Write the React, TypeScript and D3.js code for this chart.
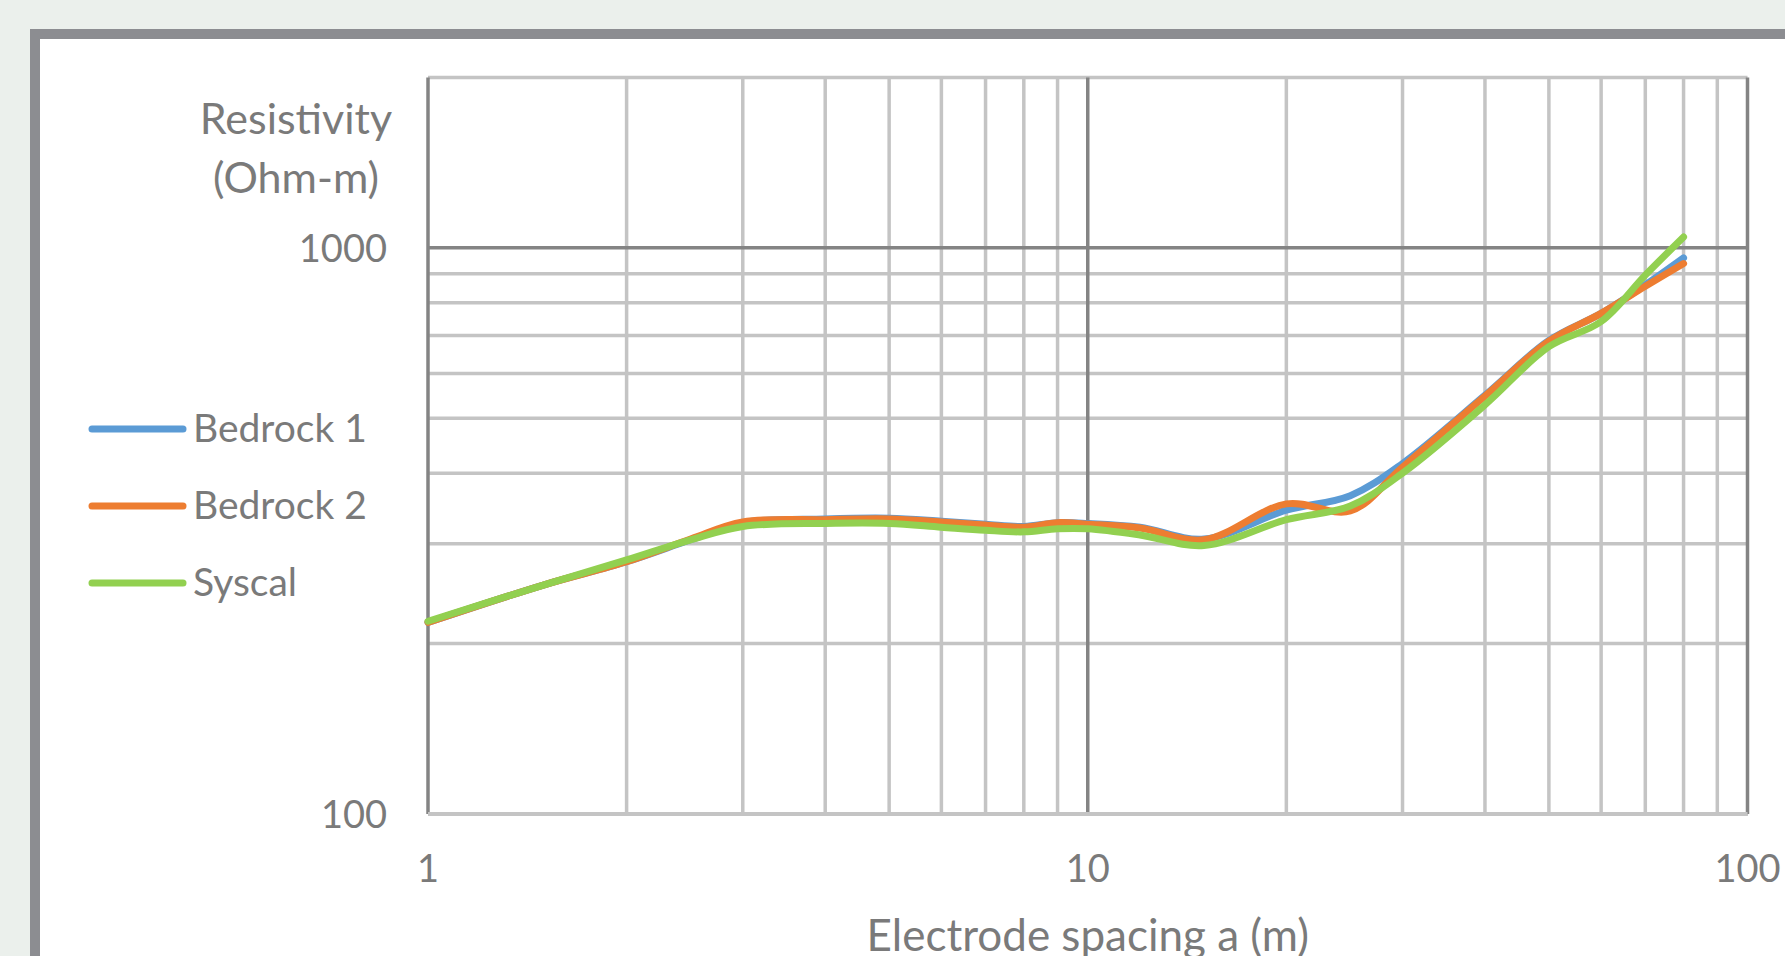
import React from "react";
import * as d3 from "d3";

const spacing = [1, 1.5, 2, 2.5, 3, 4, 5, 6, 7, 8, 9, 10, 12, 15, 20, 25, 30, 40, 50, 60, 70, 80];
const bedrock1 = [218, 254, 279, 305, 327, 332, 333, 329, 325, 322, 327, 326, 321, 306, 344, 365, 416, 549, 686, 766, 860, 960];
const bedrock2 = [218, 254, 279, 306, 328, 331, 332, 328, 324, 321, 327, 325, 320, 305, 353, 343, 410, 547, 684, 766, 855, 938];
const syscal = [219, 254, 281, 305, 322, 326, 326, 321, 317, 315, 319, 319, 311, 298, 331, 350, 400, 528, 669, 741, 895, 1045];

const seriesNames = ["Bedrock 1", "Bedrock 2", "Syscal"];
const seriesColors = ["#5B9BD5", "#ED7D31", "#92D050"];

const xMajorTicks = [1, 10, 100];
const xMinorTicks = [2, 3, 4, 5, 6, 7, 8, 9, 20, 30, 40, 50, 60, 70, 80, 90];
const yMajorTicks = [100, 1000];
const yMinorTicks = [200, 300, 400, 500, 600, 700, 800, 900, 2000];
const xTickLabels = ["1", "10", "100"];
const yTickLabels = ["100", "1000"];

const FONT = "Lato, 'Open Sans', sans-serif";
const TEXT = "#7a7a7a";

export default function App() {
  const W = 1785, H = 956;
  const left = 428, right = 1747.5, top = 77.4, bottom = 814;
  const x = d3.scaleLog().domain([1, 100]).range([left, right]);
  const y = d3.scaleLog().domain([100, 2000]).range([bottom, top]);
  const all = [bedrock1, bedrock2, syscal];
  const line = d3
    .line<number>()
    .x((_, i) => x(spacing[i]))
    .y((v) => y(v))
    .curve(d3.curveCatmullRom.alpha(0.5));

  return (
    <svg width={W} height={H} style={{ position: "absolute", left: 0, top: 0, display: "block" }}>
      <rect x={0} y={0} width={W} height={H} fill="#EBF0EC" />
      <rect x={35} y={34} width={W} height={H} fill="#ffffff" stroke="#8C8D91" strokeWidth={10} />
      {/* minor gridlines */}
      {yMinorTicks.map((t) => (
        <line key={"ym" + t} x1={left} x2={right} y1={y(t)} y2={y(t)} stroke="#C4C4C4" strokeWidth={3.5} />
      ))}
      {xMinorTicks.map((t) => (
        <line key={"xm" + t} x1={x(t)} x2={x(t)} y1={top} y2={bottom} stroke="#C4C4C4" strokeWidth={3.5} />
      ))}
      {/* major gridlines */}
      {yMajorTicks.map((t) => (
        <line key={"yM" + t} x1={left} x2={right} y1={y(t)} y2={y(t)} stroke="#848484" strokeWidth={3.5} />
      ))}
      {xMajorTicks.map((t) => (
        <line key={"xM" + t} x1={x(t)} x2={x(t)} y1={top} y2={bottom} stroke="#848484" strokeWidth={3.5} />
      ))}
      {/* x axis line */}
      <line x1={left} x2={right} y1={bottom} y2={bottom} stroke="#C4C4C4" strokeWidth={4} />
      {/* series */}
      {all.map((s, i) => (
        <path
          key={seriesNames[i]}
          d={line(s) || ""}
          fill="none"
          stroke={seriesColors[i]}
          strokeWidth={7}
          strokeLinecap="round"
          strokeLinejoin="round"
        />
      ))}
      {/* y tick labels */}
      {yMajorTicks.map((t, i) => (
        <text key={"yl" + t} x={387} y={y(t) + 14} textAnchor="end" fontFamily={FONT} fontSize={38} fill={TEXT}>
          {yTickLabels[i]}
        </text>
      ))}
      {/* x tick labels */}
      {xMajorTicks.map((t, i) => (
        <text key={"xl" + t} x={x(t)} y={882} textAnchor="middle" fontFamily={FONT} fontSize={38} fill={TEXT}>
          {xTickLabels[i]}
        </text>
      ))}
      {/* axis titles */}
      <text x={296} y={134} textAnchor="middle" fontFamily={FONT} fontSize={43} fill={TEXT}>
        Resistivity
      </text>
      <text x={296} y={193} textAnchor="middle" fontFamily={FONT} fontSize={43} fill={TEXT}>
        (Ohm-m)
      </text>
      <text x={(left + right) / 2} y={951} textAnchor="middle" fontFamily={FONT} fontSize={44} fill={TEXT}>
        Electrode spacing a (m)
      </text>
      {/* legend */}
      {seriesNames.map((n, i) => {
        const ly = 429 + i * 77;
        return (
          <g key={"lg" + n}>
            <line x1={92} x2={183} y1={ly} y2={ly} stroke={seriesColors[i]} strokeWidth={7} strokeLinecap="round" />
            <text x={193} y={ly + 12.5} fontFamily={FONT} fontSize={39} fill={TEXT}>
              {n}
            </text>
          </g>
        );
      })}
    </svg>
  );
}
